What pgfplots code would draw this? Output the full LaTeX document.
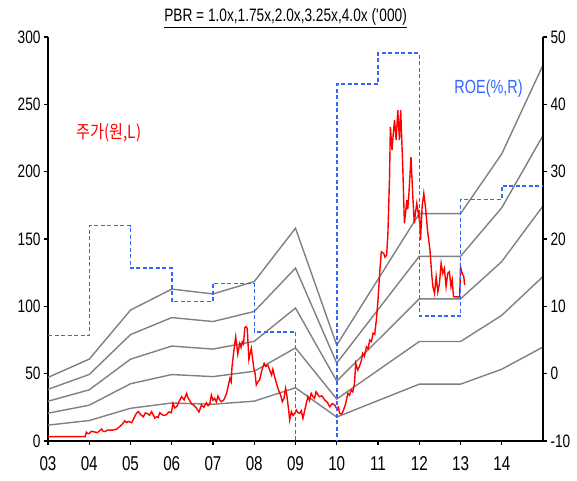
\documentclass[border=0pt]{standalone}
\usepackage{fontspec}
\setmainfont{Liberation Sans}[FakeStretch=0.76]
\newfontfamily\kr{Noto Sans CJK KR}[FakeStretch=0.84]
\usepackage{pgfplots}
\pgfplotsset{compat=1.18}
\usepackage{pgfplotstable}

\definecolor{pbrgray}{RGB}{128,128,128}
\definecolor{roeblue}{RGB}{51,102,255}

% PBR bands: BPS x 1.0, 1.75, 2.5, 3.25, 4.0 ('000 won)
\pgfplotstableread{
x    b10   b175   b25    b325   b40
3    11.8  20.65  29.5   38.35  47.2
4    15.2  26.6   38.0   49.4   60.8
5    24.3  42.5   60.75  79.0   97.2
6    28.2  49.35  70.5   91.65  112.8
7    27.3  47.8   68.25  88.7   109.2
8    29.6  51.8   74.0   96.2   118.4
9    39.5  69.1   98.75  128.4  158.0
10   17.8  31.15  44.5   57.85  71.2
12   42.2  73.85  105.5  137.15 168.8
13   42.2  73.85  105.5  137.15 168.8
14   53.3  93.3   133.25 173.2  213.2
15   69.8  122.15 174.5  226.85 279.2
}\bands

% ROE (%), held to the next year
\pgfplotstableread{
x   roe
3   5.7
4   22.0
5   15.7
6   10.7
7   13.4
8   6.2
9   -15
10  43.0
11  47.6
12  8.6
13  25.9
14  27.9
15  27.9
}\roe

% share price ('000 won)
\pgfplotstableread{
x     p
3.0   3.2
3.9   3.2
3.93  6.5
3.97  5.4
4.0   5.7
4.05  7.2
4.1   6.9
4.2   6.2
4.3   8.9
4.34  7.1
4.38  7.0
4.45  8.2
4.55  8.0
4.66  8.7
4.75  11
4.8   12.5
4.86  15
4.9   13.8
4.95  14.5
5.03  13.6
5.1   18
5.15  20.9
5.19  21.8
5.25  19.5
5.31  18
5.36  20.8
5.4   20.5
5.46  19.2
5.51  21.8
5.55  19.6
5.59  17
5.63  18
5.67  17.5
5.71  21
5.76  19.8
5.8   19
5.87  19.5
5.93  21.6
5.99  21
6.03  28
6.07  24.6
6.12  25.5
6.18  29.5
6.24  32.9
6.3   30.5
6.36  35.4
6.4   31.7
6.44  29.8
6.48  27.5
6.54  26.5
6.6   24.3
6.66  21.5
6.72  26.7
6.78  25.0
6.84  28.4
6.88  26.2
6.92  27.2
6.96  34.1
7.0   30.2
7.04  31.7
7.08  29.0
7.12  33.4
7.16  30.6
7.2   29.2
7.26  30.4
7.33  35.4
7.37  41.0
7.41  46.5
7.44  44.0
7.46  54.7
7.51  68
7.55  77.4
7.58  70.2
7.6   64.6
7.65  72.5
7.68  69.5
7.71  73.7
7.74  72.0
7.77  84.1
7.8   85.0
7.83  83.6
7.87  60.6
7.9   65.2
7.93  68.8
7.96  61.0
7.99  54
8.02  50.2
8.05  41.6
8.09  44.0
8.13  45.3
8.18  52.0
8.24  57.7
8.28  55.4
8.33  56.4
8.38  52.3
8.42  49
8.45  53.2
8.5   47.0
8.54  42.8
8.58  38.5
8.62  35.4
8.65  33.0
8.68  29.2
8.72  31.6
8.76  39.1
8.79  34.1
8.83  24.0
8.86  15.6
8.9   21.8
8.94  19.0
8.98  20.5
9.02  23
9.06  21.0
9.1   20.5
9.14  22.5
9.18  16.8
9.24  25.0
9.3   32.9
9.34  30.0
9.38  35.4
9.42  33.0
9.46  31.7
9.5   36.6
9.54  34.5
9.58  32.9
9.64  33.5
9.71  30.4
9.77  28.8
9.83  25.5
9.89  27.8
9.95  26.7
10.0  24
10.04 25.2
10.07 20.5
10.11 20.0
10.15 21.8
10.21 27.0
10.27 35.4
10.31 34.0
10.35 37.9
10.39 36.5
10.43 42.8
10.46 57.7
10.51 52.7
10.55 55.5
10.59 58.9
10.63 65.1
10.67 62.8
10.72 70
10.76 68.5
10.8  75
10.84 73.8
10.88 80
10.92 79.2
10.96 89.8
11.0  104.7
11.04 124.5
11.08 140.5
11.14 139.3
11.17 136.5
11.21 138.1
11.24 154.2
11.28 196.2
11.3  233.3
11.34 216
11.37 228.0
11.4  238.3
11.44 223.5
11.48 245.7
11.52 223.5
11.55 245.7
11.6  203.6
11.64 161.6
11.7  178.9
11.72 172.0
11.75 183.9
11.8  211
11.84 183.9
11.88 161.6
11.91 170.0
11.94 176.4
11.99 166.5
12.0  171.5
12.03 149.2
12.07 174
12.11 183.9
12.15 174
12.2  156.6
12.26 141.8
12.3  124.5
12.33 114.6
12.37 109.6
12.41 122
12.45 110.8
12.49 117.1
12.53 131.9
12.57 124.5
12.61 128.2
12.65 114.6
12.69 124.5
12.73 125.7
12.77 114.6
12.8  119.5
12.83 107.1
12.98 107
13.0  129.4
13.04 124.5
13.08 122
13.1  115.8
}\price

\begin{document}
\begin{tikzpicture}
\pgfplotsset{
  common/.style={
    scale only axis, width=495bp, height=404bp,
    xmin=3, xmax=15,
    axis line style={black, line width=1.6bp},
    tick align=outside, major tick length=4bp,
    tick style={black, line width=1.2bp},
    ticklabel style={font=\fontsize{18bp}{20bp}\selectfont},
    /pgf/number format/assume math mode=true,
    clip mode=individual,
  }
}
\begin{axis}[common, name=main,
  ymin=0, ymax=300, ytick={0,50,...,300},
  axis x line*=bottom, axis y line*=left,
  xtick={3,...,14},
  xticklabels={03,04,05,06,07,08,09,10,11,12,13,14},
  xticklabel style={font=\fontsize{20bp}{22bp}\selectfont, yshift=-8bp},
  title={\underline{PBR = 1.0x,1.75x,2.0x,3.25x,4.0x (\textquotesingle 000)}},
  title style={font=\fontsize{18bp}{20bp}\selectfont, at={(0.48,1)}, anchor=south, yshift=0bp},
]
\addplot[pbrgray, line width=1.4bp] table[y=b10] {\bands};
\addplot[pbrgray, line width=1.4bp] table[y=b175] {\bands};
\addplot[pbrgray, line width=1.4bp] table[y=b25] {\bands};
\addplot[pbrgray, line width=1.4bp] table[y=b325] {\bands};
\addplot[pbrgray, line width=1.4bp] table[y=b40] {\bands};
\addplot[red, line width=1.4bp] table[y=p] {\price};
\node[text=red, font=\kr\fontsize{18bp}{20bp}\selectfont] at (axis cs:4.48,228.7) {주가(원,L)};
\end{axis}
\begin{axis}[common,
  ymin=-10, ymax=50, ytick={-10,0,...,50},
  axis x line=none, axis y line*=right,
]
\addplot[const plot, roeblue, line width=1.5bp, dash pattern=on 4bp off 2.5bp] table[y=roe] {\roe};
\node[text=roeblue, font=\fontsize{19bp}{21bp}\selectfont] at (axis cs:13.68,42.4) {ROE(\%,R)};
\end{axis}
\pgfresetboundingbox
\useasboundingbox ([shift={(-48bp,-40bp)}]main.south west) rectangle ([shift={(34bp,37bp)}]main.north east);
\end{tikzpicture}
\end{document}
